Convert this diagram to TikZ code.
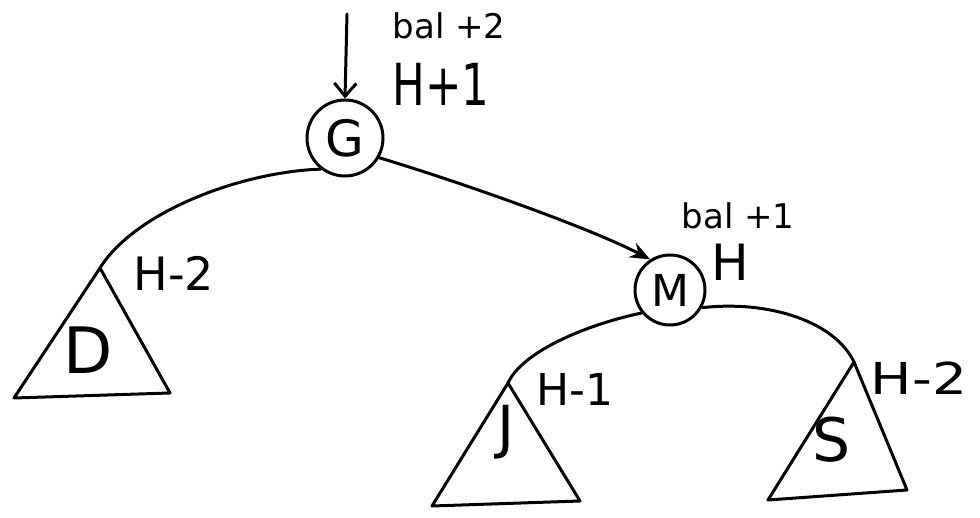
\documentclass[tikz,border=0pt]{standalone}
\usepackage{fontspec}
\setmainfont{DejaVu Sans}
\usetikzlibrary{arrows.meta}
\begin{document}
\begin{tikzpicture}[x=1pt,y=-1pt,
  pen/.style={line width=3pt,line cap=round,line join=round},
  treenode/.style={circle,draw,line width=3pt,inner sep=0pt},
  subtree/.style={pen},
  lbl/.style={inner sep=0pt,font=\fontsize{46}{50}\selectfont},
  small/.style={inner sep=0pt,font=\fontsize{34}{38}\selectfont},
  tip/.style={-{Straight Barb[length=13pt,width=22pt,line width=3pt]}}]
\useasboundingbox (0,0) rectangle (980,518);

% tree nodes
\node[treenode,minimum size=76pt,font=\fontsize{50}{54}\selectfont] (G) at (345,138) {G};
\node[treenode,minimum size=70pt,font=\fontsize{44}{48}\selectfont] (M) at (670,290) {M};

% incoming pointer
\coordinate (in) at (347,14);
\draw[pen,tip] (in) -- (G.north);

% subtree triangles
\coordinate (Dtop) at (100,268);
\coordinate (Dl) at (14,398);
\coordinate (Dr) at (170,393);
\draw[subtree] (Dtop) -- (Dl) -- (Dr) -- cycle;
\coordinate (Jtop) at (508,383);
\coordinate (Jl) at (432,506);
\coordinate (Jr) at (580,501);
\draw[subtree] (Jtop) -- (Jl) -- (Jr) -- cycle;
\coordinate (Stop) at (854,362);
\coordinate (Sl) at (768,500);
\coordinate (Sr) at (907,490);
\draw[subtree] (Stop) -- (Sl) -- (Sr) -- cycle;

% edges
\draw[pen] (G.232) .. controls (240,172) and (135,212) .. (Dtop);
\draw[pen,-{Stealth[length=20pt,width=16pt]}] (G.-30) .. controls (460,182) and (590,228) .. (M.123);
\draw[pen] (M.219) .. controls (585,325) and (522,352) .. (Jtop);
\draw[pen] (M.-29) .. controls (770,300) and (835,322) .. (Stop);

% subtree names
\node[font=\fontsize{64}{68}\selectfont,inner sep=0pt] (Dn) at (88,350) {D};
\node[font=\fontsize{58}{62}\selectfont,inner sep=0pt] (Jn) at (506,432) {J};
\node[font=\fontsize{60}{64}\selectfont,inner sep=0pt] (Sn) at (832,440) {S};

% heights and balances
\node[small] (balG) at (449,26) {bal +2};
\node[lbl,font=\fontsize{58}{62}\selectfont] (hG) at (441,84) {\scalebox{0.75}[1]{H+1}};
\node[lbl] (hD) at (174,273) {H-2};
\node[small] (balM) at (738,216) {bal +1};
\node[lbl,font=\fontsize{50}{54}\selectfont] (hM) at (730,262) {H};
\node[lbl,font=\fontsize{44}{48}\selectfont] (hJ) at (575,389) {H-1};
\node[lbl,font=\fontsize{44}{48}\selectfont] (hS) at (919,378) {\scalebox{1.25}[1]{H-2}};
\end{tikzpicture}
\end{document}
